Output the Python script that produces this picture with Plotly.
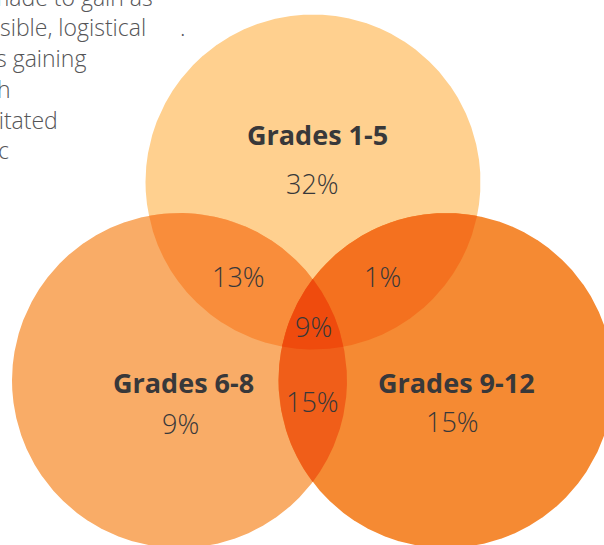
import numpy as np
import plotly.graph_objects as go

# Venn data: share of respondents in each grade-band combination
SETS = ["Grades 1-5", "Grades 6-8", "Grades 9-12"]
ONLY_PCT = [32, 9, 15]
PAIRS = [(0, 1), (0, 2), (1, 2)]
PAIR_PCT = [13, 1, 15]
ALL_PCT = 9

# Paragraph fragments visible behind the diagram
PARA_LINES = ["made to gain as", "sible, logistical", "s gaining", "h", "sitated", "c"]

# Geometry (pixel space) and styling
W, H = 604, 545
CENTERS = [(313, 182), (179.5, 380.5), (446, 380.5)]
R = 167.5
CIRCLE_COLORS = ["#FFD08F", "#F9AC67", "#F58A33"]
PAIR_COLORS = ["#F98D3B", "#F4711F", "#F05E19"]
ALL_COLOR = "#EF4B0D"
TEXT_COLOR = "#38383A"
PARA_COLOR = "#555557"
FONT = "Open Sans"


def region(idx, n=4000):
    """Boundary polygon of the intersection of the circles listed in idx."""
    pts = []
    t = np.linspace(0, 2 * np.pi, n, endpoint=False)
    for i in idx:
        cx, cy = CENTERS[i]
        x = cx + R * np.cos(t)
        y = cy + R * np.sin(t)
        mask = np.ones_like(x, dtype=bool)
        for j in idx:
            if j == i:
                continue
            ox, oy = CENTERS[j]
            mask &= (x - ox) ** 2 + (y - oy) ** 2 <= R ** 2 + 1e-6
        pts.append(np.c_[x[mask], y[mask]])
    p = np.vstack(pts)
    c = p.mean(axis=0)
    p = p[np.argsort(np.arctan2(p[:, 1] - c[1], p[:, 0] - c[0]))]
    return p


def add_region(fig, idx, color):
    p = region(idx)
    fig.add_trace(go.Scatter(
        x=np.r_[p[:, 0], p[0, 0]], y=np.r_[p[:, 1], p[0, 1]],
        mode="lines", fill="toself", fillcolor=color,
        line=dict(width=0, color=color), hoverinfo="skip", showlegend=False,
    ))


fig = go.Figure()
for i, col in enumerate(CIRCLE_COLORS):
    add_region(fig, [i], col)
for pair, col in zip(PAIRS, PAIR_COLORS):
    add_region(fig, list(pair), col)
add_region(fig, [0, 1, 2], ALL_COLOR)

ann = []


def label(x, y, text, size, weight, color=TEXT_COLOR, xanchor="center"):
    # positions given in pixels from the top-left; placed in paper coordinates
    ann.append(dict(x=x / W, y=1 - y / H, xref="paper", yref="paper", text=text,
                    showarrow=False, xanchor=xanchor, yanchor="middle",
                    font=dict(family=FONT, size=size, color=color, weight=weight)))


# set names and exclusive shares
name_pos = [(317, 134), (183, 382), (456, 382)]
pct_pos = [(312, 183), (180, 423), (452, 421)]
for name, pct, (nx, ny), (px, py) in zip(SETS, ONLY_PCT, name_pos, pct_pos):
    label(nx, ny, name, 27, 700)
    label(px, py, f"{pct}%", 27, 300)

# pairwise and triple overlaps
pair_pos = [(238, 276), (382, 276), (312, 401)]
for pct, (x, y) in zip(PAIR_PCT, pair_pos):
    label(x, y, f"{pct}%", 27, 300)
label(313, 326, f"{ALL_PCT}%", 27, 300)

# background paragraph fragments (right-aligned at their visible ends)
para_right = [155, 148, 88, 13, 60, 11]
para_base = [5, 35, 66, 97, 128, 158]
for txt, xr, yb in zip(PARA_LINES, para_right, para_base):
    label(xr, yb - 8, txt, 23, 300, color=PARA_COLOR, xanchor="right")
label(182, 27, ".", 23, 300, color=PARA_COLOR)

fig.update_layout(
    width=W, height=H,
    margin=dict(l=0, r=0, t=0, b=0),
    paper_bgcolor="white", plot_bgcolor="white",
    xaxis=dict(range=[0, W], visible=False, fixedrange=True),
    yaxis=dict(range=[H, 0], visible=False, fixedrange=True),
    annotations=ann,
    showlegend=False,
)

fig.write_html("out.html")
